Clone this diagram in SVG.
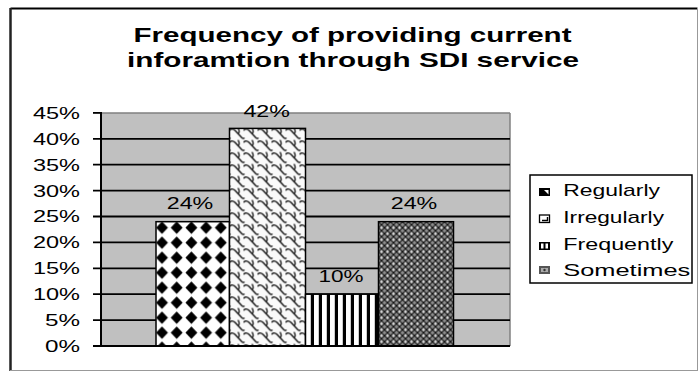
<svg xmlns="http://www.w3.org/2000/svg" width="699" height="372" viewBox="0 0 699 372">
  <style>
    text { font-family: "Liberation Sans", Arial, sans-serif; fill: #000; }
    .title { font-size: 21px; font-weight: bold; text-anchor: middle; }
    .tick { font-size: 16px; text-anchor: end; }
    .val { font-size: 16px; text-anchor: middle; }
    .leg { font-size: 17px; }
    .grid { stroke: #000; stroke-width: 1.8; }
    .bar { stroke: #000; stroke-width: 1.5; }
  </style>
  <defs>
    <!-- black diamonds on white -->
    <pattern id="pDiamond" patternUnits="userSpaceOnUse" x="154.65" y="220.2" width="14.7" height="15">
      <rect width="14.7" height="15" fill="#fff"/>
      <polygon points="7.35,1.3 13.3,7.5 7.35,13.7 1.4,7.5" fill="#000"/>
    </pattern>
    <!-- shingle / scale lines -->
    <pattern id="pShingle" patternUnits="userSpaceOnUse" x="229.5" y="128.4" width="14" height="12">
      <rect width="14" height="12" fill="#fafafa"/>
      <path d="M-1,3 C1,0 3.5,0 5.5,2 L12.5,9.5 C13.2,10.2 14.2,10.2 15,9.5 M-1,9.5 C-0.3,10.2 0.3,10.2 1,9.5 M8.5,-0.3 C9.6,1.2 10,3 9.3,4.8 M8.5,11.7 C9.6,13.2 10,15 9.3,16.8" fill="none" stroke="#000" stroke-width="1.2"/>
    </pattern>
    <!-- vertical stripes -->
    <pattern id="pStripe" patternUnits="userSpaceOnUse" x="306" y="0" width="8" height="10">
      <rect width="8" height="10" fill="#fff"/>
      <rect x="4.8" width="3.2" height="10" fill="#000"/>
    </pattern>
    <!-- fine crosshatch on grey -->
    <pattern id="pHatch" patternUnits="userSpaceOnUse" x="378.5" y="221.7" width="6" height="6">
      <rect width="6" height="6" fill="#8e8e8e"/>
      <path d="M0,0 L6,6 M6,0 L0,6" stroke="#111" stroke-width="1.1"/>
      <circle cx="3" cy="0.6" r="0.8" fill="#eee"/>
      <circle cx="3" cy="5.4" r="0.8" fill="#eee"/>
    </pattern>
  </defs>

  <!-- chart frame -->
  <rect x="0" y="0" width="699" height="372" fill="#fff"/>
  <g id="frame">
    <line x1="10.5" y1="8.5" x2="697.5" y2="8.5" stroke="#000" stroke-width="2"/>
    <line x1="10.5" y1="8" x2="10.5" y2="371" stroke="#222" stroke-width="2.5"/>
    <line x1="697.5" y1="8" x2="697.5" y2="371" stroke="#999" stroke-width="1"/>
    <line x1="10" y1="370.5" x2="698" y2="370.5" stroke="#999" stroke-width="1"/>
  </g>

  <!-- title -->
  <g id="title">
    <text class="title" x="352.5" y="42" textLength="438" lengthAdjust="spacingAndGlyphs">Frequency of providing current</text>
    <text class="title" x="353" y="67" textLength="452" lengthAdjust="spacingAndGlyphs">inforamtion through SDI service</text>
  </g>

  <!-- plot area -->
  <g id="plot">
    <rect x="101" y="112.9" width="409" height="233.1" fill="#c0c0c0"/>
    <line x1="101" y1="112.9" x2="510" y2="112.9" stroke="#808080" stroke-width="1.5"/>
    <line x1="510" y1="112.9" x2="510" y2="346" stroke="#808080" stroke-width="1.5"/>
    <g id="gridlines">
      <line class="grid" x1="93" y1="138.8" x2="510" y2="138.8"/>
      <line class="grid" x1="93" y1="164.7" x2="510" y2="164.7"/>
      <line class="grid" x1="93" y1="190.6" x2="510" y2="190.6"/>
      <line class="grid" x1="93" y1="216.5" x2="510" y2="216.5"/>
      <line class="grid" x1="93" y1="242.4" x2="510" y2="242.4"/>
      <line class="grid" x1="93" y1="268.3" x2="510" y2="268.3"/>
      <line class="grid" x1="93" y1="294.2" x2="510" y2="294.2"/>
      <line class="grid" x1="93" y1="320.1" x2="510" y2="320.1"/>
      <line class="grid" x1="93" y1="112.9" x2="101" y2="112.9"/>
    </g>
  </g>

  <!-- bars -->
  <g id="bar-regularly">
    <rect class="bar" x="156" y="221.7" width="73.5" height="124.3" fill="url(#pDiamond)"/>
  </g>
  <g id="bar-irregularly">
    <rect class="bar" x="229.5" y="128.4" width="76" height="217.6" fill="url(#pShingle)"/>
  </g>
  <g id="bar-frequently">
    <rect class="bar" x="305.5" y="294.2" width="73" height="51.8" fill="url(#pStripe)"/>
  </g>
  <g id="bar-sometimes">
    <rect class="bar" x="378.5" y="221.7" width="75" height="124.3" fill="url(#pHatch)"/>
  </g>

  <!-- axes -->
  <g id="axes">
    <line x1="101" y1="112" x2="101" y2="347" stroke="#000" stroke-width="2"/>
    <line x1="93" y1="346" x2="510" y2="346" stroke="#000" stroke-width="2"/>
  </g>

  <!-- value axis labels -->
  <g id="tick-labels">
    <text class="tick" x="80" y="118.8" textLength="47" lengthAdjust="spacingAndGlyphs">45%</text>
    <text class="tick" x="80" y="144.7" textLength="47" lengthAdjust="spacingAndGlyphs">40%</text>
    <text class="tick" x="80" y="170.6" textLength="47" lengthAdjust="spacingAndGlyphs">35%</text>
    <text class="tick" x="80" y="196.5" textLength="47" lengthAdjust="spacingAndGlyphs">30%</text>
    <text class="tick" x="80" y="222.4" textLength="47" lengthAdjust="spacingAndGlyphs">25%</text>
    <text class="tick" x="80" y="248.3" textLength="47" lengthAdjust="spacingAndGlyphs">20%</text>
    <text class="tick" x="80" y="274.2" textLength="47" lengthAdjust="spacingAndGlyphs">15%</text>
    <text class="tick" x="80" y="300.1" textLength="47" lengthAdjust="spacingAndGlyphs">10%</text>
    <text class="tick" x="80" y="326" textLength="35" lengthAdjust="spacingAndGlyphs">5%</text>
    <text class="tick" x="80" y="351.9" textLength="35" lengthAdjust="spacingAndGlyphs">0%</text>
  </g>

  <!-- data labels -->
  <g id="data-labels">
    <text class="val" x="190" y="209" textLength="46.5" lengthAdjust="spacingAndGlyphs">24%</text>
    <text class="val" x="266.7" y="116.7" textLength="46.5" lengthAdjust="spacingAndGlyphs">42%</text>
    <text class="val" x="341" y="282.3" textLength="45" lengthAdjust="spacingAndGlyphs">10%</text>
    <text class="val" x="414" y="209" textLength="46.5" lengthAdjust="spacingAndGlyphs">24%</text>
  </g>

  <!-- legend -->
  <g id="legend">
    <rect x="530" y="175" width="162" height="108" fill="#fff" stroke="#000" stroke-width="1.5"/>
    <g id="legend-regularly">
      <rect x="539" y="188" width="11" height="8" fill="#000"/>
      <polygon points="544,190 548.5,190 548.5,194.5" fill="#fff"/>
      <text class="leg" x="563.3" y="195.5" textLength="96.7" lengthAdjust="spacingAndGlyphs">Regularly</text>
    </g>
    <g id="legend-irregularly">
      <rect x="539.5" y="215" width="10" height="7.5" fill="#fff" stroke="#000" stroke-width="1.3"/>
      <path d="M542,220.5 L547.5,220.5 L547.5,217" fill="none" stroke="#000" stroke-width="1.4"/>
      <text class="leg" x="563.3" y="222.5" textLength="100.7" lengthAdjust="spacingAndGlyphs">Irregularly</text>
    </g>
    <g id="legend-frequently">
      <rect x="539" y="242" width="11" height="8" fill="#000"/>
      <rect x="541" y="243.5" width="2.5" height="5" fill="#fff"/>
      <rect x="545.5" y="243.5" width="2.5" height="5" fill="#fff"/>
      <text class="leg" x="563.3" y="250" textLength="110" lengthAdjust="spacingAndGlyphs">Frequently</text>
    </g>
    <g id="legend-sometimes">
      <rect x="539" y="266" width="11" height="8" fill="#555"/>
      <rect x="541" y="268" width="7" height="4" fill="#aaa"/>
      <circle cx="544.5" cy="270" r="1.2" fill="#333"/>
      <text class="leg" x="563.3" y="276" textLength="127" lengthAdjust="spacingAndGlyphs">Sometimes</text>
    </g>
  </g>
</svg>
